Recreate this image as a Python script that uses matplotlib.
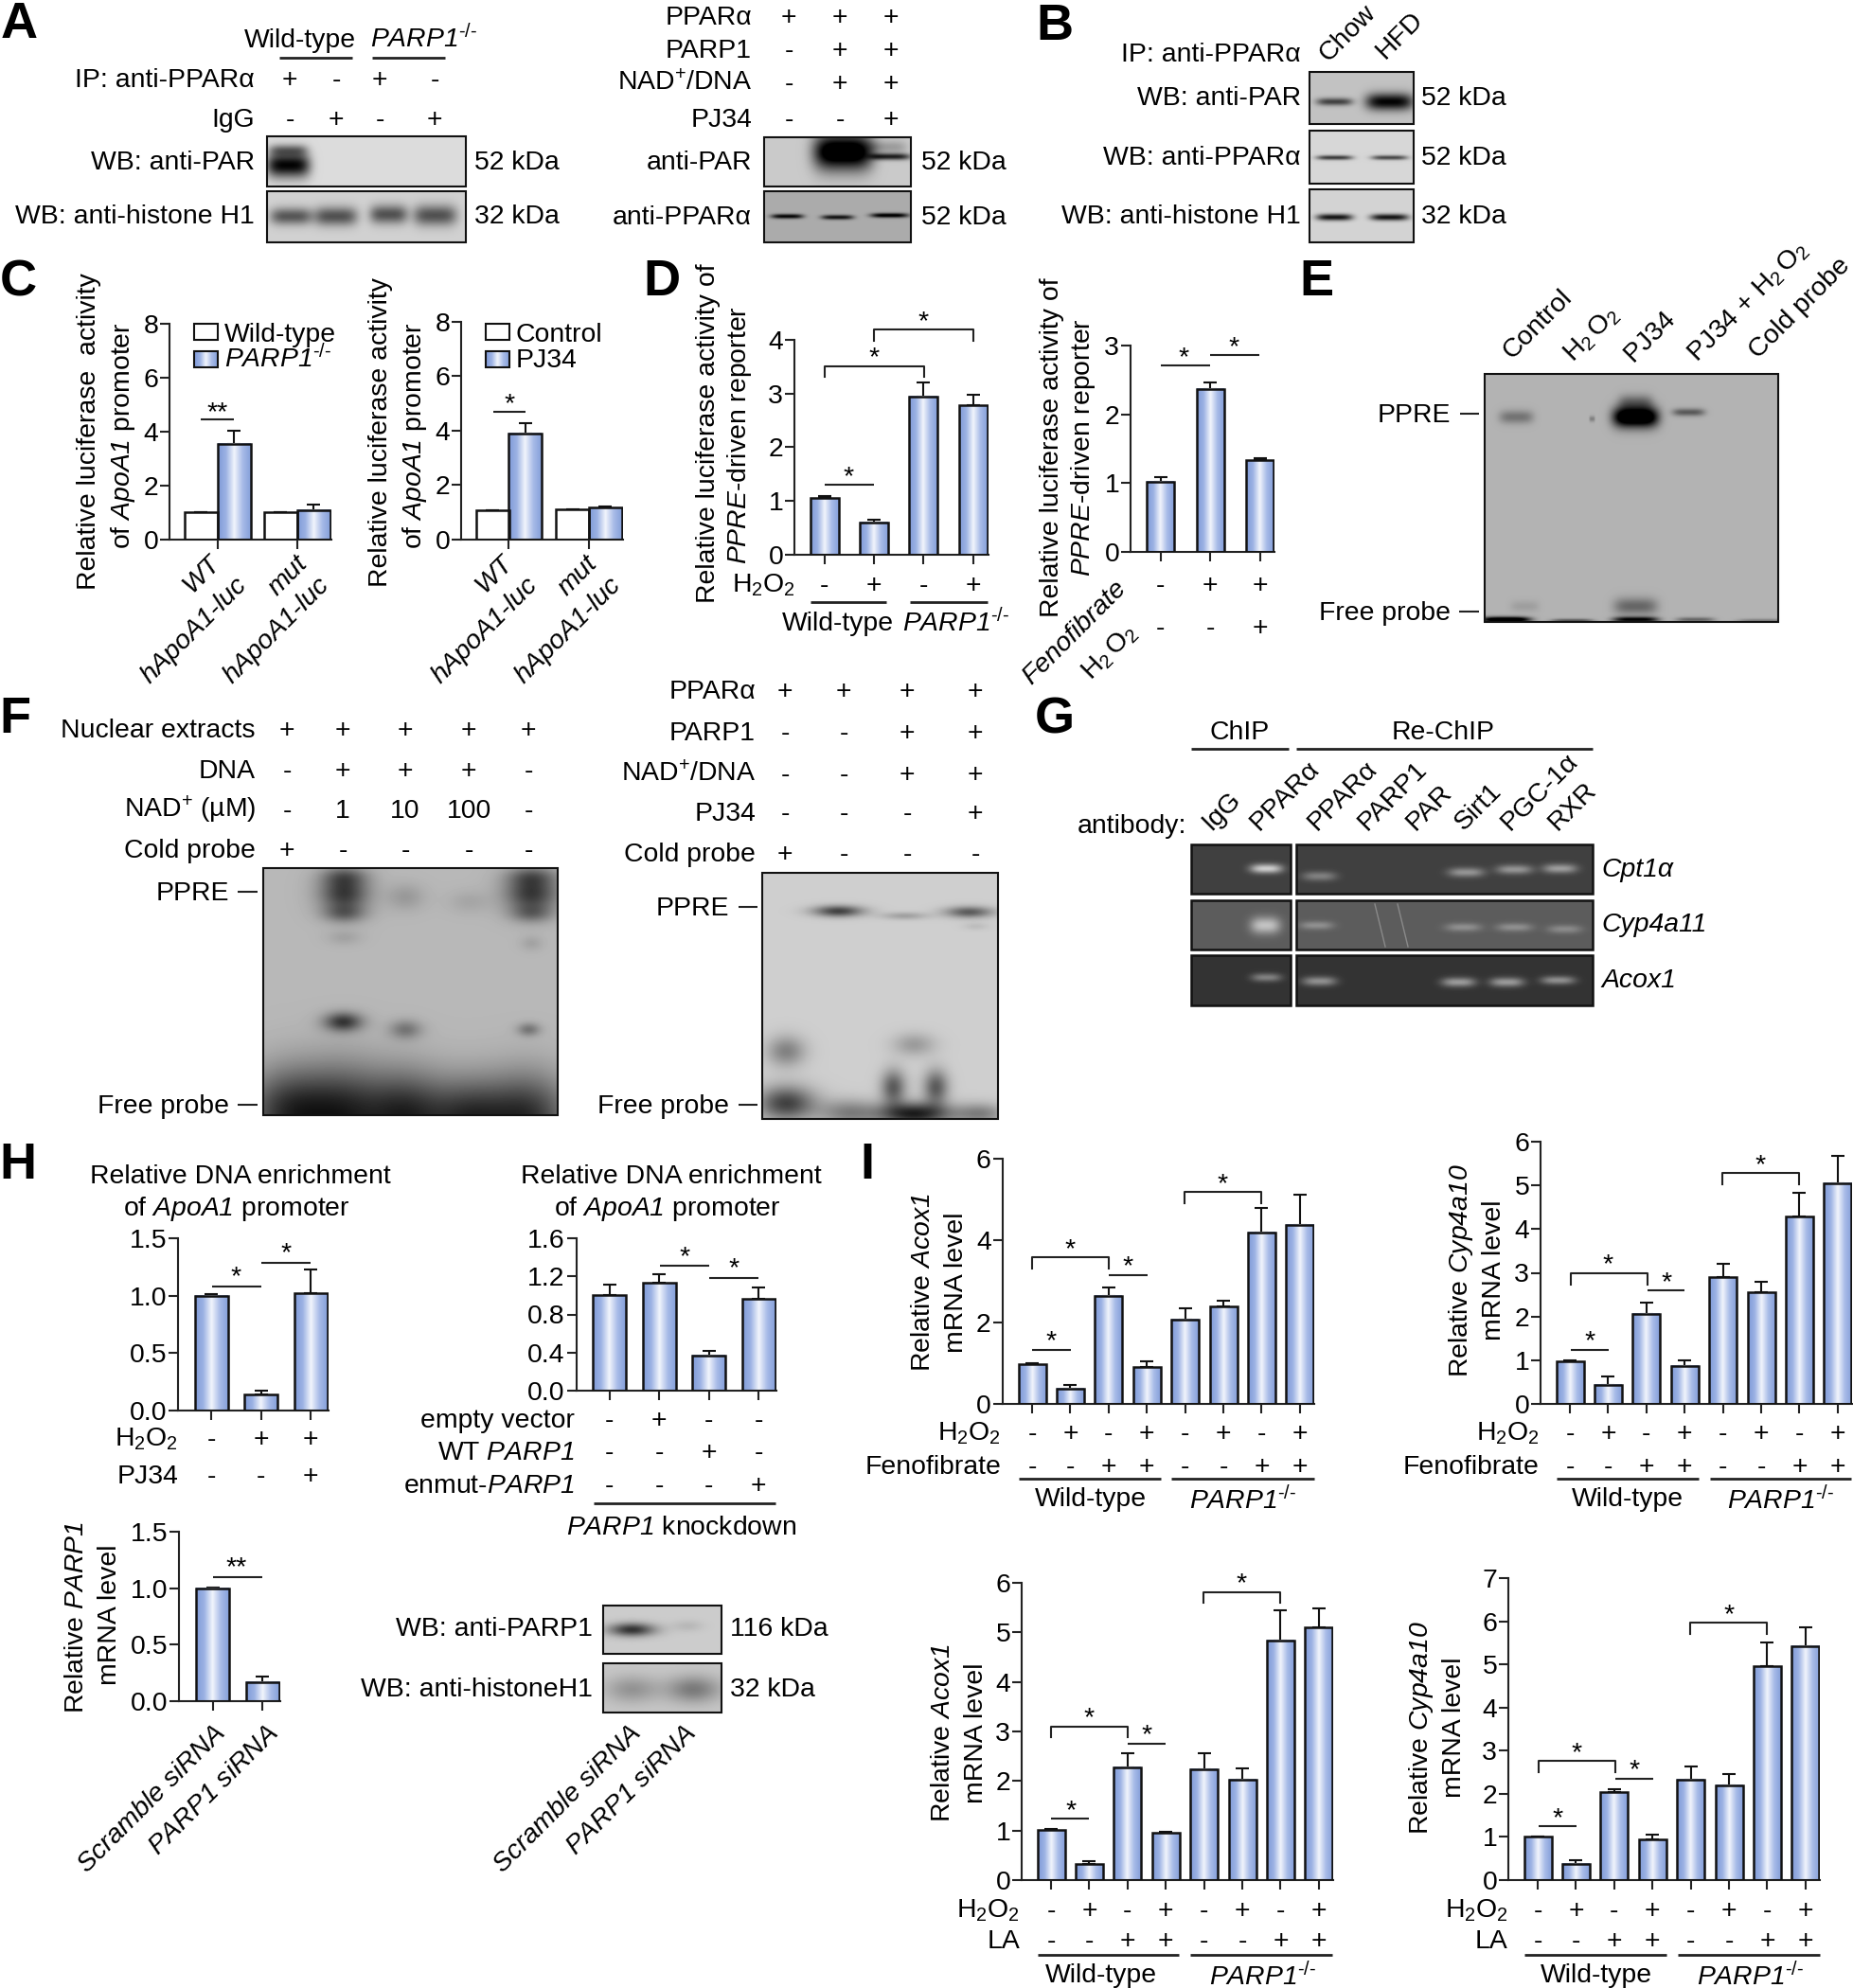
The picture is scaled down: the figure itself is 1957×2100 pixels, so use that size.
import numpy as np
import matplotlib
matplotlib.use('Agg')
import matplotlib.pyplot as plt
from matplotlib.patches import Rectangle
from matplotlib.colors import LinearSegmentedColormap

plt.rcParams['font.family'] = ['Liberation Sans', 'DejaVu Sans']
plt.rcParams['mathtext.fontset'] = 'custom'
plt.rcParams['mathtext.rm'] = 'Liberation Sans'
plt.rcParams['mathtext.it'] = 'Liberation Sans:italic'
plt.rcParams['mathtext.cal'] = 'Liberation Sans:italic'
plt.rcParams['mathtext.bf'] = 'Liberation Sans:bold'
plt.rcParams['mathtext.default'] = 'rm'

W, H = 1957, 2100
FS = 20.4
LW = 1.5

KO = r'$\mathcal{PARP1}^{\text{-/-}}$'
H2O2 = r'H$_2$O$_2$'
H2O2_WIDE = r'H$_2\,$O$_2$'
NAD = r'NAD$^{+}$/DNA'

# bar values and error bars
c1_vals = [1.0, 3.55, 1.0, 1.1]
c1_errs = [0.01, 0.5, 0.01, 0.2]
c2_vals = [1.08, 3.9, 1.1, 1.18]
c2_errs = [0.01, 0.38, 0.01, 0.02]
d1_vals = [1.05, 0.6, 2.95, 2.78]
d1_errs = [0.05, 0.05, 0.25, 0.2]
d2_vals = [1.02, 2.37, 1.33]
d2_errs = [0.07, 0.1, 0.03]
h1_vals = [1.0, 0.14, 1.02]
h1_errs = [0.01, 0.03, 0.21]
h2_vals = [1.0, 1.13, 0.37, 0.96]
h2_errs = [0.11, 0.09, 0.05, 0.12]
h3_vals = [1.0, 0.17]
h3_errs = [0.005, 0.05]
i1_vals = [0.97, 0.38, 2.65, 0.9, 2.07, 2.38, 4.2, 4.38]
i1_errs = [0.02, 0.08, 0.2, 0.15, 0.27, 0.15, 0.6, 0.75]
i2_vals = [0.97, 0.44, 2.06, 0.87, 2.9, 2.55, 4.28, 5.05]
i2_errs = [0.02, 0.18, 0.25, 0.12, 0.3, 0.24, 0.55, 0.62]
i3_vals = [1.01, 0.32, 2.28, 0.95, 2.24, 2.03, 4.84, 5.1]
i3_errs = [0.02, 0.06, 0.28, 0.02, 0.32, 0.22, 0.6, 0.38]
i4_vals = [1.0, 0.38, 2.03, 0.94, 2.33, 2.2, 4.95, 5.43]
i4_errs = [0.01, 0.07, 0.08, 0.12, 0.3, 0.25, 0.55, 0.43]

# y ticks
ticks_c = [0, 2, 4, 6, 8]
ticks_d1 = [0, 1, 2, 3, 4]
ticks_d2 = [0, 1, 2, 3]
ticks_h1 = [0.0, 0.5, 1.0, 1.5]
ticks_h2 = [0.0, 0.4, 0.8, 1.2, 1.6]
ticks_i6 = [0, 2, 4, 6]
ticks_i7 = [0, 1, 2, 3, 4, 5, 6]
ticks_i8 = [0, 1, 2, 3, 4, 5, 6, 7]

# treatment rows under the bars
h2o2_row8 = '-+-+-+-+'
feno_row8 = '--++--++'

# blot bands: centre x, centre y, half width, half height, strength
a1_bands = [(304, 174, 23, 13, 0.85), (304, 158, 20, 6, 0.35)]
a2_bands = [(307, 228, 22, 9, 0.48), (354, 228, 23, 10, 0.5), (410, 226, 20, 10, 0.5), (459, 227, 23, 11, 0.5)]
a3_bands = [(890, 160, 31, 19, 1.0), (940, 165, 21, 3.5, 0.65), (937, 155, 20, 7, 0.18)]
a4_bands = [(831, 228, 17, 2.5, 0.65), (884, 229, 17, 2.5, 0.6), (939, 227, 20, 2.5, 0.7)]
b1_bands = [(1409, 107, 19, 4, 0.5), (1467, 107, 25, 9, 0.75)]
b2_bands = [(1409, 166, 19, 2.5, 0.6), (1467, 166, 19, 2.5, 0.55)]
b3_bands = [(1409, 229, 19, 3.5, 0.75), (1467, 229, 20, 3.5, 0.75)]
e_bands = [(1601, 440, 18, 7, 0.25), (1681, 442, 3, 3, 0.2), (1727, 440, 24, 11, 1.0), (1727, 424, 18, 8, 0.25),
           (1783, 435, 17, 4, 0.35), (1590, 654, 26, 3, 0.9), (1660, 655, 22, 2, 0.35), (1727, 654, 24, 3, 0.7),
           (1727, 640, 23, 9, 0.3), (1790, 654, 20, 2.5, 0.3), (1860, 655, 25, 2, 0.2), (1610, 640, 15, 6, 0.08)]
f1_bands = [(363, 943, 26, 21, 0.5), (363, 925, 24, 10, 0.2), (363, 965, 22, 9, 0.22), (363, 990, 18, 8, 0.08),
            (561, 943, 28, 21, 0.5), (561, 925, 26, 10, 0.2), (561, 965, 22, 9, 0.2), (561, 996, 12, 8, 0.08),
            (428, 947, 20, 14, 0.12), (495, 952, 22, 12, 0.07),
            (362, 1079, 20, 10, 0.5), (428, 1087, 17, 10, 0.25), (558, 1087, 12, 7, 0.25),
            (303, 1175, 46, 46, 0.5), (363, 1178, 46, 52, 0.5), (428, 1178, 42, 46, 0.5), (495, 1182, 44, 42, 0.5), (558, 1180, 44, 46, 0.5)]
f2_bands = [(885, 962, 26, 6, 0.55), (955, 967, 24, 4, 0.18), (1023, 963, 25, 6, 0.45), (1030, 978, 13, 4, 0.07),
            (830, 1110, 20, 16, 0.3), (965, 1103, 22, 12, 0.2), (943, 1148, 13, 18, 0.45), (988, 1148, 13, 18, 0.45),
            (830, 1165, 30, 18, 0.55), (895, 1175, 30, 14, 0.3), (965, 1176, 38, 12, 0.7), (1035, 1176, 26, 11, 0.3)]
g1_bands = [(1337, 917, 17, 5, 0.55), (1393, 925, 18, 5, 0.25), (1548, 921, 19, 5, 0.33), (1599, 918, 19, 5, 0.33), (1647, 917, 18, 5, 0.36)]
g2_bands = [(1336, 977, 16, 9, 0.4), (1390, 977, 18, 4.5, 0.2), (1545, 979, 19, 4.5, 0.2), (1599, 979, 19, 4.5, 0.2), (1652, 981, 18, 4.5, 0.18)]
g3_bands = [(1337, 1032, 16, 4.5, 0.3), (1393, 1036, 18, 5, 0.36), (1540, 1037, 18, 5, 0.4), (1591, 1037, 18, 5, 0.4), (1645, 1035, 18, 4.5, 0.36)]
h_wb1_bands = [(667, 1721, 24, 7, 0.6), (726, 1717, 16, 6, 0.08)]
h_wb2_bands = [(667, 1784, 28, 14, 0.2), (732, 1784, 28, 14, 0.3)]

fig = plt.figure(figsize=(W / 100, H / 100), dpi=100)
top = fig.add_axes([0, 0, 1, 1], zorder=5)
top.set_xlim(0, W)
top.set_ylim(H, 0)
top.axis('off')
top.patch.set_alpha(0)

bar_cmap = LinearSegmentedColormap.from_list('bar', ['#7f9ad8', '#9db3e4', '#f2f5fc', '#a9bce8', '#86a0da'])


def txt(x, y, s, ha='center', size=FS, rotation=0, **kw):
    # y is the middle of the capitals, so math text sits on the same baseline as plain text
    off = size * 0.42
    if rotation == 90:
        x = x + off
    else:
        y = y + off
    top.text(x, y, s, ha=ha, va='baseline', fontsize=size, color='black', rotation=rotation, rotation_mode='anchor', **kw)


def hline(x0, x1, y, lw=LW):
    top.plot([x0, x1], [y, y], color='#222222', lw=lw, solid_capstyle='butt')


def star(x, y, s='*'):
    top.text(x, y + 16, s, ha='center', va='baseline', fontsize=FS)


def bracket(x0, x1, y, drop, sx, sy):
    top.plot([x0, x0, x1, x1], [y + drop, y, y, y + drop], color='#222222', lw=LW)
    star(sx, sy)


def rows(xs, ys, labels, right, signs):
    for y, lab, sg in zip(ys, labels, signs):
        txt(right, y, lab, ha='right')
        for x, c in zip(xs, sg):
            txt(x, y, c)


def rot(x, y, s, anchor='left', **kw):
    if anchor == 'left':
        top.text(x + 8, y - 2, s, rotation=45, rotation_mode='anchor', ha='left', va='baseline', fontsize=FS, **kw)
    else:
        top.text(x - 13, y - 5, s, rotation=45, rotation_mode='anchor', ha='right', va='top', fontsize=FS, **kw)


def ylab(x, y, s):
    txt(x, y, s, rotation=90)


def blot(x0, x1, y0, y1, bg, bands, sign=-1, bg2=None, edge=1.5, power=4):
    yy, xx = np.mgrid[y0:y1, x0:x1]
    bot = bg if bg2 is None else bg2
    img = bg + (bot - bg) * (yy - y0) / (y1 - y0)
    for cx, cy, sx, sy, s in bands:
        img = img + sign * s * np.exp(-np.abs((xx - cx) / sx) ** power) * np.exp(-((yy - cy) / sy) ** 2)
    top.imshow(np.clip(img, 0, 1), extent=[x0, x1, y1, y0], cmap='gray', vmin=0, vmax=1, aspect='auto', zorder=1)
    top.add_patch(Rectangle((x0, y0), x1 - x0, y1 - y0, fill=False, ec='#111111', lw=edge, zorder=2))


def bars(vals, errs, ticks, spine, ytop, ybot, c0, step, width, white=(), gap=0.0, tick_at=None):
    # pixel box only places the axes, bar heights go through the y scale
    n = len(vals)
    x = np.arange(n, dtype=float)
    if gap:
        x[2:] += gap
    right = c0 + x[-1] * step + width / 2 + 1
    ax = fig.add_axes([spine / W, 1 - ybot / H, (right - spine) / W, (ybot - ytop) / H])
    ax.patch.set_alpha(0)
    w = width / step
    ax.errorbar(x, vals, yerr=[np.zeros(n), errs], fmt='none', ecolor='#111111', elinewidth=LW, capsize=5, capthick=LW, zorder=1)
    rects = ax.bar(x, vals, width=w, color='white', edgecolor='none', zorder=2)
    grad = np.linspace(0, 1, 64).reshape(1, -1)
    for i, r in enumerate(rects):
        if i not in white:
            ax.imshow(grad, extent=[r.get_x(), r.get_x() + w, 0, vals[i]], cmap=bar_cmap, aspect='auto', zorder=2.5)
    ax.bar(x, vals, width=w, facecolor='none', edgecolor='#111111', linewidth=LW + 0.3, zorder=3)
    ax.set_xlim((spine - c0) / step, (right - c0) / step)
    ax.set_ylim(0, ticks[-1])
    for s in ('top', 'right'):
        ax.spines[s].set_visible(False)
    for s in ('left', 'bottom'):
        ax.spines[s].set_linewidth(LW)
        ax.spines[s].set_color('#222222')
    ax.set_xticks(x if tick_at is None else tick_at)
    ax.set_xticklabels([])
    ax.set_yticks(ticks)
    ax.set_yticklabels([str(t) for t in ticks], fontsize=FS)
    ax.tick_params(length=7.5, width=LW, color='#222222', pad=1)
    return ax


def group_labels(lines, wt_x, ko_x, y_wt, y_ko, y_line):
    hline(lines[0], lines[1], y_line, lw=2)
    hline(lines[2], lines[3], y_line, lw=2)
    txt(wt_x, y_wt, 'Wild-type')
    txt(ko_x, y_ko, KO)


for letter, x, y in [('A', 20, 24), ('B', 1114, 26), ('C', 19, 296), ('D', 699, 296), ('E', 1390, 296),
                     ('F', 16, 758), ('G', 1114, 758), ('H', 19, 1229), ('I', 916, 1229)]:
    txt(x, y, letter, size=39, fontweight='bold')

# A left
txt(317, 41, 'Wild-type')
txt(448, 41, KO)
hline(295, 372, 61, 2)
hline(393, 470, 61, 2)
rows([306, 355, 401, 459], [83, 125], ['IP: anti-PPAR\u03b1', 'IgG'], 269, ['+-+-', '-+-+'])
blot(282, 492, 144, 197, 0.86, a1_bands)
blot(282, 492, 202, 256, 0.82, a2_bands)
txt(269, 170, 'WB: anti-PAR', ha='right')
txt(269, 227, 'WB: anti-histone H1', ha='right')
txt(501, 170, '52 kDa', ha='left')
txt(501, 227, '32 kDa', ha='left')

# A right
rows([833, 887, 941], [17, 52, 87, 125], ['PPAR\u03b1', 'PARP1', NAD, 'PJ34'], 794, ['+++', '-++', '-++', '--+'])
blot(807, 962, 145, 197, 0.79, a3_bands)
blot(807, 962, 202, 256, 0.67, a4_bands)
txt(794, 170, 'anti-PAR', ha='right')
txt(794, 228, 'anti-PPAR\u03b1', ha='right')
txt(973, 170, '52 kDa', ha='left')
txt(973, 228, '52 kDa', ha='left')

# B
txt(1374, 56, 'IP: anti-PPAR\u03b1', ha='right')
rot(1394, 68, 'Chow')
rot(1455, 65, 'HFD')
blot(1383, 1493, 76, 131, 0.76, b1_bands)
blot(1383, 1493, 138, 194, 0.84, b2_bands)
blot(1383, 1493, 200, 256, 0.83, b3_bands)
for y, lab, kda in [(102, 'WB: anti-PAR', '52 kDa'), (165, 'WB: anti-PPAR\u03b1', '52 kDa'), (227, 'WB: anti-histone H1', '32 kDa')]:
    txt(1374, y, lab, ha='right')
    txt(1501, y, kda, ha='left')

# C
bars(c1_vals, c1_errs, ticks_c, 179, 342, 570, 212, 35, 35, white=(0, 2), gap=0.41, tick_at=[0.5, 2.91])
bars(c2_vals, c2_errs, ticks_c, 487, 340, 570, 520, 34.5, 35, white=(0, 2), gap=0.45, tick_at=[0.5, 2.95])
ylab(92, 456, 'Relative luciferase  activity')
ylab(128, 460, r'of $\mathcal{ApoA1}$ promoter')
ylab(400, 456, 'Relative luciferase activity')
ylab(436, 460, r'of $\mathcal{ApoA1}$ promoter')
for x0, x1, lab0, lab1 in [(205, 237, 'Wild-type', KO), (513, 545, 'Control', 'PJ34')]:
    top.add_patch(Rectangle((x0, 342), 25, 17, fc='white', ec='#111111', lw=LW))
    top.imshow(np.linspace(0, 1, 32).reshape(1, -1), extent=[x0, x0 + 25, 388, 371], cmap=bar_cmap, aspect='auto')
    top.add_patch(Rectangle((x0, 371), 25, 17, fill=False, ec='#111111', lw=LW))
    txt(x1, 352, lab0, ha='left')
    txt(x1, 379, lab1, ha='left')
for x, y, s in [(233, 587, 'WT'), (261, 610, 'hApoA1-luc'), (325, 587, 'mut'), (348, 610, 'hApoA1-luc'),
                (542, 587, 'WT'), (568, 610, 'hApoA1-luc'), (631, 587, 'mut'), (656, 610, 'hApoA1-luc')]:
    rot(x, y, s, anchor='right', style='italic')
hline(212, 247, 443)
star(230, 427, '**')
hline(521, 555, 435)
star(538, 418)

# D
bars(d1_vals, d1_errs, ticks_d1, 839, 359, 586, 870.5, 52.4, 30)
ylab(746, 458, 'Relative luciferase activity of')
ylab(779, 460, r'$\mathcal{PPRE}$-driven reporter')
rows([870.5, 923, 975.5, 1028], [617], [H2O2], 840, ['-+-+'])
group_labels([856, 936, 961, 1043], 885, 1010, 657, 658, 636)
hline(870.5, 923, 512)
star(896, 495)
bracket(870.5, 975.5, 387, 11, 923, 369)
bracket(923, 1028, 348, 12, 975, 331)

bars(d2_vals, d2_errs, ticks_d2, 1194, 365, 583, 1225.5, 52.5, 29)
ylab(1109, 473, 'Relative luciferase activity of')
ylab(1142, 473, r'$\mathcal{PPRE}$-driven reporter')
for x, c1, c2 in zip([1225.5, 1278, 1330.5], '-++', '--+'):
    txt(x, 617, c1)
    txt(x, 662, c2)
rot(1189, 613, 'Fenofibrate', anchor='right', style='italic')
rot(1201, 659, H2O2_WIDE, anchor='right')
hline(1226, 1278, 386)
star(1250, 369)
hline(1278, 1330, 375)
star(1303, 358)

# E
blot(1568, 1878, 395, 657, 0.70, e_bands)
for x, y, s in [(1589, 382, 'Control'), (1653, 385, H2O2_WIDE), (1717, 385, 'PJ34'), (1784, 385, 'PJ34 + ' + H2O2_WIDE), (1849, 382, 'Cold probe')]:
    rot(x, y, s)
txt(1532, 437, 'PPRE', ha='right')
hline(1542, 1562, 437)
txt(1532, 646, 'Free probe', ha='right')
hline(1541, 1562, 646)

# F left
rows([303, 362, 428, 495, 558], [770, 813, 855, 897],
     ['Nuclear extracts', 'DNA', 'NAD$^{+}$ (\u00b5M)', 'Cold probe'], 270,
     ['+++++', '-+++-', ['-', '1', '10', '100', '-'], '+----'])
blot(278, 589, 917, 1178, 0.72, f1_bands, power=2)
txt(242, 942, 'PPRE', ha='right')
hline(251, 272, 942)
txt(242, 1167, 'Free probe', ha='right')
hline(251, 272, 1167)

# F right
rows([829, 891, 958, 1030], [729, 773, 817, 858, 901], ['PPAR\u03b1', 'PARP1', NAD, 'PJ34', 'Cold probe'], 798,
     ['++++', '--++', '--++', '---+', '+---'])
blot(805, 1054, 922, 1182, 0.81, f2_bands, power=2)
txt(770, 958, 'PPRE', ha='right')
hline(780, 800, 958)
txt(770, 1167, 'Free probe', ha='right')
hline(780, 800, 1167)

# G
txt(1309, 772, 'ChIP')
txt(1524, 772, 'Re-ChIP')
hline(1258, 1361, 791, 2)
hline(1369, 1682, 791, 2)
txt(1253, 871, 'antibody:', ha='right')
for x, s in [(1271, 'IgG'), (1322, 'PPAR\u03b1'), (1383, 'PPAR\u03b1'), (1436, 'PARP1'), (1487, 'PAR'), (1538, 'Sirt1'), (1587, 'PGC-1\u03b1'), (1637, 'RXR')]:
    rot(x, 880, s)
for y0, y1, bg, bands, gene, yt in [(892, 944, 0.25, g1_bands, 'Cpt1\u03b1', 917), (951, 1003, 0.36, g2_bands, 'Cyp4a11', 975), (1009, 1062, 0.2, g3_bands, 'Acox1', 1034)]:
    left = [b for b in bands if b[0] < 1365]
    right = [b for b in bands if b[0] >= 1365]
    blot(1258, 1363, y0, y1, bg, left, sign=1, edge=1.8, power=3)
    blot(1369, 1682, y0, y1, bg, right, sign=1, edge=1.8, power=3)
    txt(1691, yt, gene, ha='left', style='italic')
top.plot([1452, 1463], [955, 1000], color='#8a8a8a', lw=1)
top.plot([1476, 1487], [955, 1000], color='#8a8a8a', lw=1)

# H
for x in (254, 709):
    txt(x, 1241, 'Relative DNA enrichment')
    txt(x - 4, 1275, r'of $\mathcal{ApoA1}$ promoter')
bars(h1_vals, h1_errs, ticks_h1, 188, 1308, 1490, 223, 52.5, 35)
rows([223, 275.5, 328], [1519, 1558], [H2O2, 'PJ34'], 188, ['-++', '--+'])
hline(224, 276, 1359)
star(249, 1340)
hline(276, 328, 1334)
star(302, 1315)

bars(h2_vals, h2_errs, ticks_h2, 608.5, 1308, 1469, 643.5, 52.5, 35)
rows([643.5, 696, 748.5, 801], [1499, 1533, 1568], ['empty vector', r'WT $\mathcal{PARP1}$', r'enmut-$\mathcal{PARP1}$'], 607,
     ['-+--', '--+-', '---+'])
hline(627, 819, 1588, 2)
txt(720, 1612, r'$\mathcal{PARP1}$ knockdown')
hline(697, 749, 1337)
star(723, 1319)
hline(749, 801, 1350)
star(775, 1331)

bars(h3_vals, h3_errs, ticks_h1, 189, 1618, 1797, 224.5, 52.5, 35)
ylab(79, 1708, r'Relative $\mathcal{PARP1}$')
ylab(114, 1706, 'mRNA level')
hline(225, 277, 1666)
star(250, 1647, '**')
rot(238, 1823, 'Scramble siRNA', anchor='right', style='italic')
rot(294, 1823, r'$\mathcal{PARP1}$ siRNA', anchor='right', style='italic')

blot(637, 762, 1696, 1747, 0.80, h_wb1_bands, power=2)
blot(637, 762, 1757, 1809, 0.78, h_wb2_bands, power=2)
txt(626, 1719, 'WB: anti-PARP1', ha='right')
txt(626, 1783, 'WB: anti-histoneH1', ha='right')
txt(771, 1719, '116 kDa', ha='left')
txt(771, 1783, '32 kDa', ha='left')
rot(677, 1823, 'Scramble siRNA', anchor='right', style='italic')
rot(735, 1823, r'$\mathcal{PARP1}$ siRNA', anchor='right', style='italic')


def panel_i(vals, errs, ticks, spine, ytop, ybot, c0, label_right, treat, y_rows, y_lines, y_names, lines, wt_x, ko_x, gene, y_x, y_mid):
    bars(vals, errs, ticks, spine, ytop, ybot, c0, 40.4, 29)
    xs = [c0 + 40.4 * i for i in range(8)]
    rows(xs, y_rows, [H2O2, treat], label_right, [h2o2_row8, feno_row8])
    group_labels(lines, wt_x, ko_x, y_names, y_names + 3, y_lines)
    ylab(y_x, y_mid, 'Relative ' + gene)
    ylab(y_x + 35, y_mid, 'mRNA level')


panel_i(i1_vals, i1_errs, ticks_i6, 1058.5, 1224, 1483, 1090, 1057, 'Fenofibrate', [1513, 1548], 1562, 1582,
        [1076, 1226, 1237, 1387.5], 1151.5, 1313, r'$\mathcal{Acox1}$', 973, 1355)
hline(1090, 1131, 1426)
star(1110, 1408)
bracket(1090, 1171, 1328, 12, 1130, 1311)
hline(1171, 1211.5, 1347)
star(1191, 1329)
bracket(1251, 1332, 1259, 12, 1291, 1242)

panel_i(i2_vals, i2_errs, ticks_i7, 1627, 1206, 1483, 1658, 1625.5, 'Fenofibrate', [1513, 1548], 1562, 1582,
        [1644, 1794, 1806, 1955], 1719, 1881, r'$\mathcal{Cyp4a10}$', 1541, 1342)
hline(1658.6, 1699, 1426)
star(1679, 1408)
bracket(1658.6, 1739.5, 1345, 12, 1698, 1327)
hline(1739.5, 1779, 1363)
star(1760, 1346)
bracket(1819, 1900, 1239, 12, 1859.5, 1222)

panel_i(i3_vals, i3_errs, ticks_i7, 1079, 1672, 1986, 1110, 1077, 'LA', [2017, 2049], 2065, 2085,
        [1095.5, 1245, 1257, 1407], 1163, 1334, r'$\mathcal{Acox1}$', 994, 1831)
hline(1110, 1150, 1921)
star(1131, 1904)
bracket(1110, 1191, 1824, 11, 1150, 1806)
hline(1191, 1231, 1842)
star(1211, 1824)
bracket(1271, 1352, 1682, 11, 1311, 1664)

panel_i(i4_vals, i4_errs, ticks_i8, 1593, 1667, 1986, 1624, 1592.5, 'LA', [2017, 2049], 2065, 2085,
        [1610, 1760, 1772, 1922], 1686, 1849, r'$\mathcal{Cyp4a10}$', 1499, 1825)
hline(1625, 1665, 1929)
star(1645, 1912)
bracket(1625, 1706, 1860, 12, 1665, 1843)
hline(1706, 1746, 1879)
star(1726, 1861)
bracket(1785, 1866, 1714, 12, 1826, 1697)

top.set_xlim(0, W)
top.set_ylim(H, 0)
fig.savefig('out.png', dpi=100)
